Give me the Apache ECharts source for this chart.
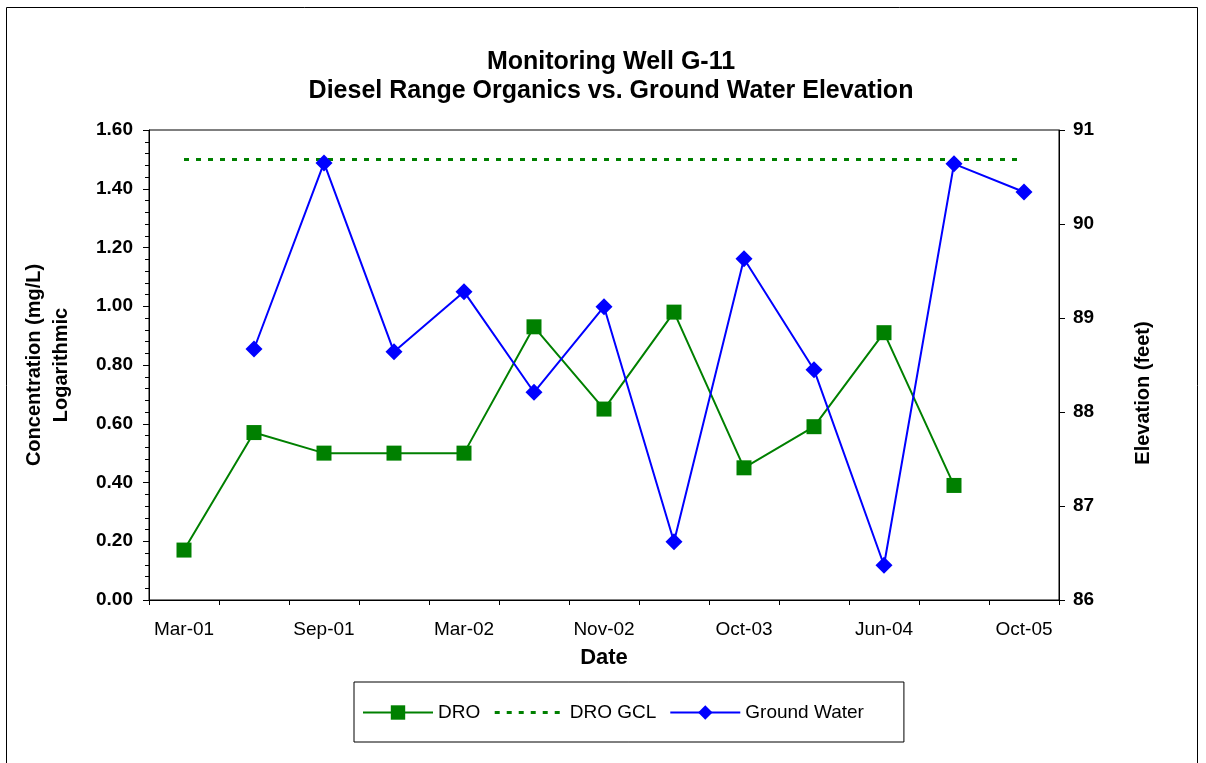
<!DOCTYPE html>
<html>
<head>
<meta charset="utf-8">
<title>Monitoring Well G-11</title>
<script src="https://cdn.jsdelivr.net/npm/echarts@6/dist/echarts.min.js"></script>
<style>
    html, body { margin: 0; padding: 0; background: #fff; }
    #chart { width: 1206px; height: 763px; }
</style>
</head>
<body>
<div id="chart"></div>
<script>
// sampling dates (every other one is labelled on the axis)
var dates = ['Mar-01', 'Jun-01', 'Sep-01', 'Dec-01', 'Mar-02', 'Jul-02', 'Nov-02',
             'Apr-03', 'Oct-03', 'Feb-04', 'Jun-04', 'Mar-05', 'Oct-05'];

// DRO concentration, mg/L (no sample on the last date)
var droValues = [0.17, 0.57, 0.50, 0.50, 0.50, 0.93, 0.65, 0.98, 0.45, 0.59, 0.91, 0.39, null];

// DRO ground water cleanup level, mg/L
var gclValues = [1.5, 1.5, 1.5, 1.5, 1.5, 1.5, 1.5, 1.5, 1.5, 1.5, 1.5, 1.5, 1.5];

// ground water elevation, feet (no reading on the first date)
var gwValues = [null, 88.67, 90.65, 88.64, 89.28, 88.21, 89.12, 86.62, 89.63, 88.45, 86.37, 90.64, 90.34];

var FONT = 'Liberation Sans, Arial, sans-serif';

var chart = echarts.init(document.getElementById('chart'));

var option = {
    backgroundColor: '#fff',
    animation: false,
    title: {
        text: 'Monitoring Well G-11\nDiesel Range Organics vs. Ground Water Elevation',
        left: 606,
        textAlign: 'center',
        top: 43,
        textStyle: {
            fontFamily: FONT,
            fontSize: 25,
            fontWeight: 'bold',
            color: '#000',
            lineHeight: 29
        }
    },
    graphic: [{
        type: 'rect',
        shape: { x: 6.5, y: 7.5, width: 1191, height: 770 },
        style: { fill: 'none', stroke: '#000', lineWidth: 1 },
        silent: true
    }],
    legend: {
        left: 354,
        top: 682,
        padding: [21, 40, 20, 8],
        borderColor: '#000',
        borderWidth: 1,
        itemWidth: 70,
        itemHeight: 18,
        itemGap: 13,
        textStyle: { fontFamily: FONT, fontSize: 19, color: '#000' },
        data: [
            'DRO',
            { name: 'DRO GCL', itemStyle: { opacity: 0 }, lineStyle: { width: 3 } },
            'Ground Water'
        ]
    },
    grid: {
        left: 149,
        right: 147,
        top: 130,
        bottom: 163,
        show: true,
        borderColor: '#000',
        borderWidth: 1,
        backgroundColor: 'transparent'
    },
    xAxis: {
        type: 'category',
        data: dates,
        boundaryGap: true,
        name: 'Date',
        nameLocation: 'middle',
        nameGap: 47,
        nameTextStyle: { fontFamily: FONT, fontSize: 22, fontWeight: 'bold', color: '#000' },
        axisLine: { lineStyle: { color: '#000', width: 1 } },
        axisTick: { show: true, alignWithLabel: false, interval: 0, length: 5, lineStyle: { color: '#000' } },
        axisLabel: { interval: 1, margin: 20, fontFamily: FONT, fontSize: 19, color: '#000' },
        splitLine: { show: false }
    },
    yAxis: [{
        type: 'value',
        min: 0,
        max: 1.6,
        interval: 0.2,
        name: 'Concentration (mg/L)\nLogarithmic',
        nameLocation: 'middle',
        nameGap: 74,
        nameTextStyle: { fontFamily: FONT, fontSize: 20, fontWeight: 'bold', color: '#000', lineHeight: 27 },
        axisLine: { show: true, lineStyle: { color: '#000' } },
        axisTick: { show: true, length: 6, lineStyle: { color: '#000' } },
        minorTick: { show: true, splitNumber: 5, length: 4, lineStyle: { color: '#000' } },
        axisLabel: {
            margin: 16, fontFamily: FONT, fontSize: 19, fontWeight: 'bold', color: '#000',
            formatter: function (v) { return v.toFixed(2); }
        },
        splitLine: { show: false }
    }, {
        type: 'value',
        min: 86,
        max: 91,
        interval: 1,
        position: 'right',
        name: 'Elevation (feet)',
        nameLocation: 'middle',
        nameGap: 74,
        nameRotate: 90,
        nameTextStyle: {
            fontFamily: FONT, fontSize: 20, fontWeight: 'bold', color: '#000',
            padding: [0, 56, 0, 0]
        },
        axisLine: { show: true, lineStyle: { color: '#000' } },
        axisTick: { show: true, length: 6, lineStyle: { color: '#000' } },
        axisLabel: { margin: 14, fontFamily: FONT, fontSize: 19, fontWeight: 'bold', color: '#000' },
        splitLine: { show: false }
    }],
    series: [{
        name: 'DRO',
        type: 'line',
        yAxisIndex: 0,
        data: droValues,
        symbol: 'rect',
        symbolSize: 15,
        connectNulls: false,
        color: '#008000',
        lineStyle: { color: '#008000', width: 2 },
        itemStyle: { color: '#008000' },
        z: 3
    }, {
        name: 'DRO GCL',
        type: 'line',
        yAxisIndex: 0,
        data: gclValues,
        symbol: 'none',
        color: '#008000',
        lineStyle: { color: '#008000', width: 3, type: [5, 7] },
        z: 2
    }, {
        name: 'Ground Water',
        type: 'line',
        yAxisIndex: 1,
        data: gwValues,
        symbol: 'diamond',
        symbolSize: [17, 17],
        color: '#0000ff',
        lineStyle: { color: '#0000ff', width: 2 },
        itemStyle: { color: '#0000ff' },
        z: 4
    }]
};

chart.setOption(option);
</script>
</body>
</html>
